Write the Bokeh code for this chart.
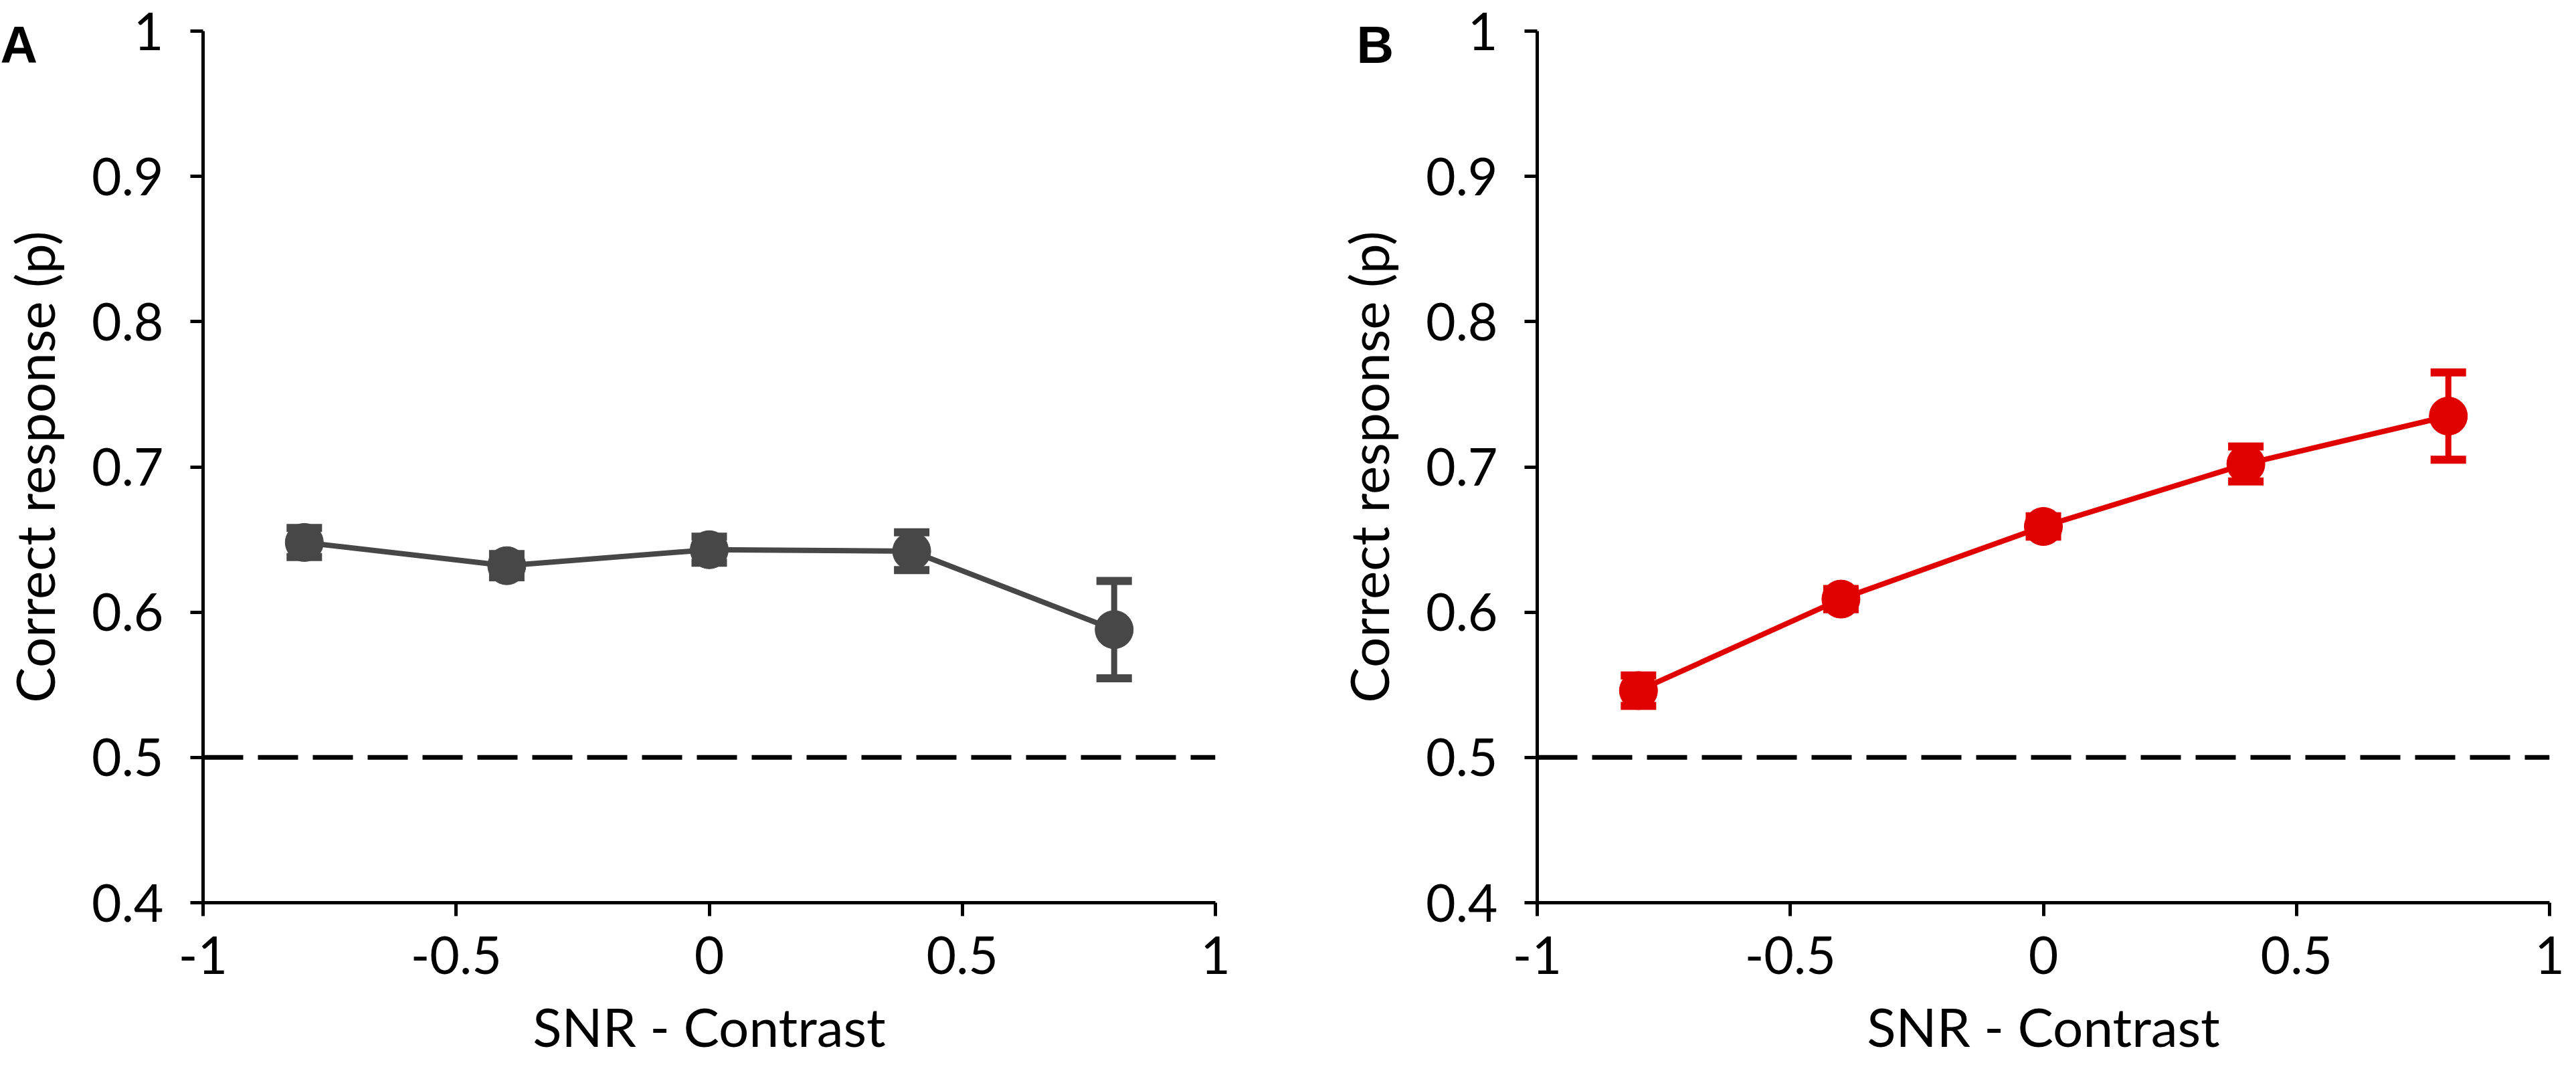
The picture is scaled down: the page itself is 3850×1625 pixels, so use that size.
from bokeh.plotting import figure
from bokeh.layouts import row
from bokeh.models import Span, Whisker, TeeHead, ColumnDataSource, Label, FixedTicker
from bokeh.embed import file_html
from bokeh.resources import INLINE

# ---- data ----
snr = [-0.8, -0.4, 0.0, 0.4, 0.8]
acc_a = [0.648, 0.632, 0.643, 0.642, 0.588]
err_a = [0.010, 0.008, 0.009, 0.013, 0.0335]
acc_b = [0.546, 0.609, 0.659, 0.702, 0.735]
err_b = [0.0105, 0.007, 0.007, 0.012, 0.030]
x_ticks = [-1, -0.5, 0, 0.5, 1]
x_tick_labels = ["-1", "-0.5", "0", "0.5", "1"]
y_ticks = [0.4, 0.5, 0.6, 0.7, 0.8, 0.9, 1.0]
y_tick_labels = ["0.4", "0.5", "0.6", "0.7", "0.8", "0.9", "1"]
chance_level = 0.5
panel_letters = ["A", "B"]
x_label = "SNR - Contrast"
y_label = "Correct response (p)"
colors = ["#474747", "#e00000"]

# ---- layout constants ----
FW, FH = 1513, 1303
TOP = 46
X0, X1 = -1.0, 1.0
Y0, Y1 = 0.4, 1.0
FONT = "Lato"


def make_panel(vals, errs, color, letter, left_border, right_border, letter_x, letter_side):
    p = figure(frame_width=FW, frame_height=FH, x_range=(X0, X1), y_range=(Y0, Y1),
               output_backend="svg", toolbar_location=None,
               min_border_left=left_border, min_border_right=right_border,
               min_border_top=TOP, min_border_bottom=0,
               background_fill_color="white", border_fill_color="white")
    p.outline_line_color = None
    p.xgrid.visible = False
    p.ygrid.visible = False

    p.xaxis.ticker = FixedTicker(ticks=x_ticks)
    p.yaxis.ticker = FixedTicker(ticks=y_ticks)
    p.xaxis.major_label_overrides = dict(zip(x_ticks, x_tick_labels))
    p.yaxis.major_label_overrides = dict(zip(y_ticks, y_tick_labels))
    p.xaxis.axis_label = x_label
    p.yaxis.axis_label = y_label
    for ax in (p.xaxis[0], p.yaxis[0]):
        ax.axis_line_width = 5
        ax.axis_line_color = "black"
        ax.major_tick_line_width = 5
        ax.major_tick_line_color = "black"
        ax.major_tick_in = 0
        ax.minor_tick_in = 0
        ax.minor_tick_out = 0
        ax.major_label_text_font = FONT
        ax.major_label_text_font_size = "77px"
        ax.major_label_text_color = "black"
        ax.axis_label_text_font = FONT
        ax.axis_label_text_font_size = "80px"
        ax.axis_label_text_font_style = "normal"
        ax.axis_label_text_color = "black"
    p.xaxis.major_tick_out = 20
    p.yaxis.major_tick_out = 19
    p.xaxis.major_label_standoff = 30
    p.yaxis.major_label_standoff = 40
    p.xaxis.axis_label_standoff = 27
    p.yaxis.axis_label_standoff = 35

    p.add_layout(Span(location=chance_level, dimension="width", line_color="black",
                      line_width=7, line_dash="60 22"))

    src = ColumnDataSource(dict(x=snr, y=vals,
                                lo=[v - e for v, e in zip(vals, errs)],
                                hi=[v + e for v, e in zip(vals, errs)]))
    p.line("x", "y", source=src, line_color=color, line_width=8)
    w = Whisker(base="x", lower="lo", upper="hi", source=src, line_color=color, line_width=9,
                upper_head=TeeHead(size=53, line_color=color, line_width=12),
                lower_head=TeeHead(size=53, line_color=color, line_width=12))
    p.add_layout(w)
    p.scatter("x", "y", source=src, size=57, fill_color=color, line_color=color, line_width=1)

    # panel letter: placed in a side panel (not clipped), positioned in canvas pixels
    lab = Label(x=letter_x, y=66, x_units="canvas", y_units="canvas", text=letter,
                text_font="Liberation Sans", text_font_style="bold",
                text_font_size="77px", text_color="black",
                text_baseline="alphabetic", text_align="left")
    p.add_layout(lab, letter_side)
    return p


pa = make_panel(acc_a, err_a, colors[0], panel_letters[0], 296, 91, 0, "right")
pb = make_panel(acc_b, err_b, colors[1], panel_letters[1], 390, 30, 120, "left")

layout = row(pa, pb)
open("out.html", "w").write(file_html(layout, INLINE))
